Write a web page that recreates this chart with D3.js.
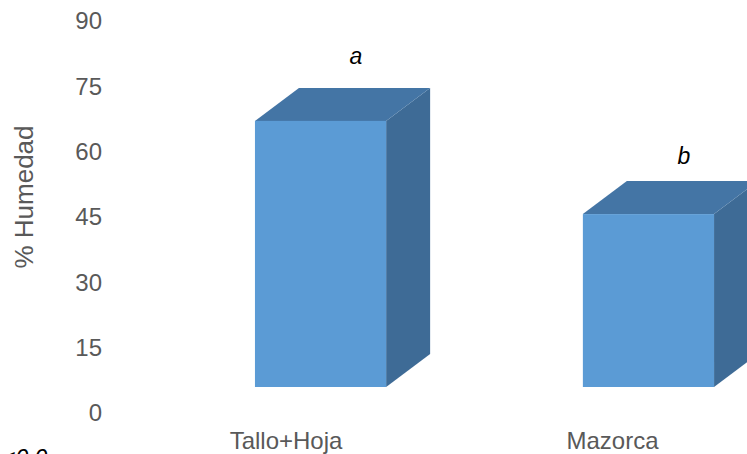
<!DOCTYPE html>
<html><head><meta charset="utf-8">
<script src="https://cdn.jsdelivr.net/npm/d3@7"></script>
<style>html,body{margin:0;padding:0;background:#fff}svg{display:block}text{font-family:"Liberation Sans",Arial,sans-serif}</style>
</head><body><svg id="c" width="747" height="454"></svg>
<script>
const categories = ["Tallo+Hoja", "Mazorca"];
const humedad = [61.1, 39.7];
const letters = ["a", "b"];
const yTicks = [0, 15, 30, 45, 60, 75, 90];
const yTitle = "% Humedad";
const fragment = "<0.0";

const svg = d3.select("#c");
const y = d3.scaleLinear().domain([0, 90]).range([413, 21]);
const x = d3.scaleBand().domain(categories).range([91, 878]).paddingInner(0.6).paddingOuter(0.5);
const xLabel = d3.scalePoint().domain(categories).range([286, 612.5]);
const lift = d3.scaleOrdinal().domain(letters).range([57, 50]);
const baseShift = 26, dx = 44, dy = 33;
const h = v => y(0) - y(v);

const gy = svg.append("g").attr("transform", "translate(102,0)")
  .call(d3.axisLeft(y).tickValues(yTicks).tickSize(0).tickPadding(0));
gy.select(".domain").remove();
gy.selectAll("text").attr("font-size", 24).attr("fill", "#595959").attr("font-family", '"Liberation Sans",Arial,sans-serif');

svg.append("text").attr("transform", "translate(33,197) rotate(-90)").attr("text-anchor", "middle")
  .attr("font-size", 26).attr("fill", "#595959").text(yTitle);

const bars = svg.selectAll("g.bar").data(categories.map((c, i) => ({c, v: humedad[i], l: letters[i]})))
  .join("g").attr("class", "bar");
const L = d => x(d.c), R = d => x(d.c) + x.bandwidth(), B = () => y(0) - baseShift, T = d => B() - h(d.v);
const pts = a => a.map(p => p.join(",")).join(" ");
bars.append("polygon").attr("fill", "#3e6b96")
  .attr("points", d => pts([[R(d), T(d)], [R(d) + dx, T(d) - dy], [R(d) + dx, B() - dy], [R(d), B()]]));
bars.append("polygon").attr("fill", "#4475a5")
  .attr("points", d => pts([[L(d), T(d)], [L(d) + dx, T(d) - dy], [R(d) + dx, T(d) - dy], [R(d), T(d)]]));
bars.append("rect").attr("fill", "#5b9bd5")
  .attr("x", L).attr("y", T).attr("width", x.bandwidth()).attr("height", d => h(d.v));
bars.append("text").attr("x", d => L(d) + 101).attr("y", d => T(d) - lift(d.l)).attr("text-anchor", "middle")
  .attr("font-size", 23).attr("font-style", "italic").attr("fill", "#000").text(d => d.l);

svg.selectAll("text.cat").data(categories).join("text").attr("class", "cat")
  .attr("x", d => xLabel(d)).attr("y", 449).attr("text-anchor", "middle")
  .attr("font-size", 24).attr("fill", "#595959").text(d => d);

svg.append("text").attr("x", 2).attr("y", 466).attr("font-size", 23).attr("font-style", "italic").attr("fill", "#000").text(fragment);
</script></body></html>
